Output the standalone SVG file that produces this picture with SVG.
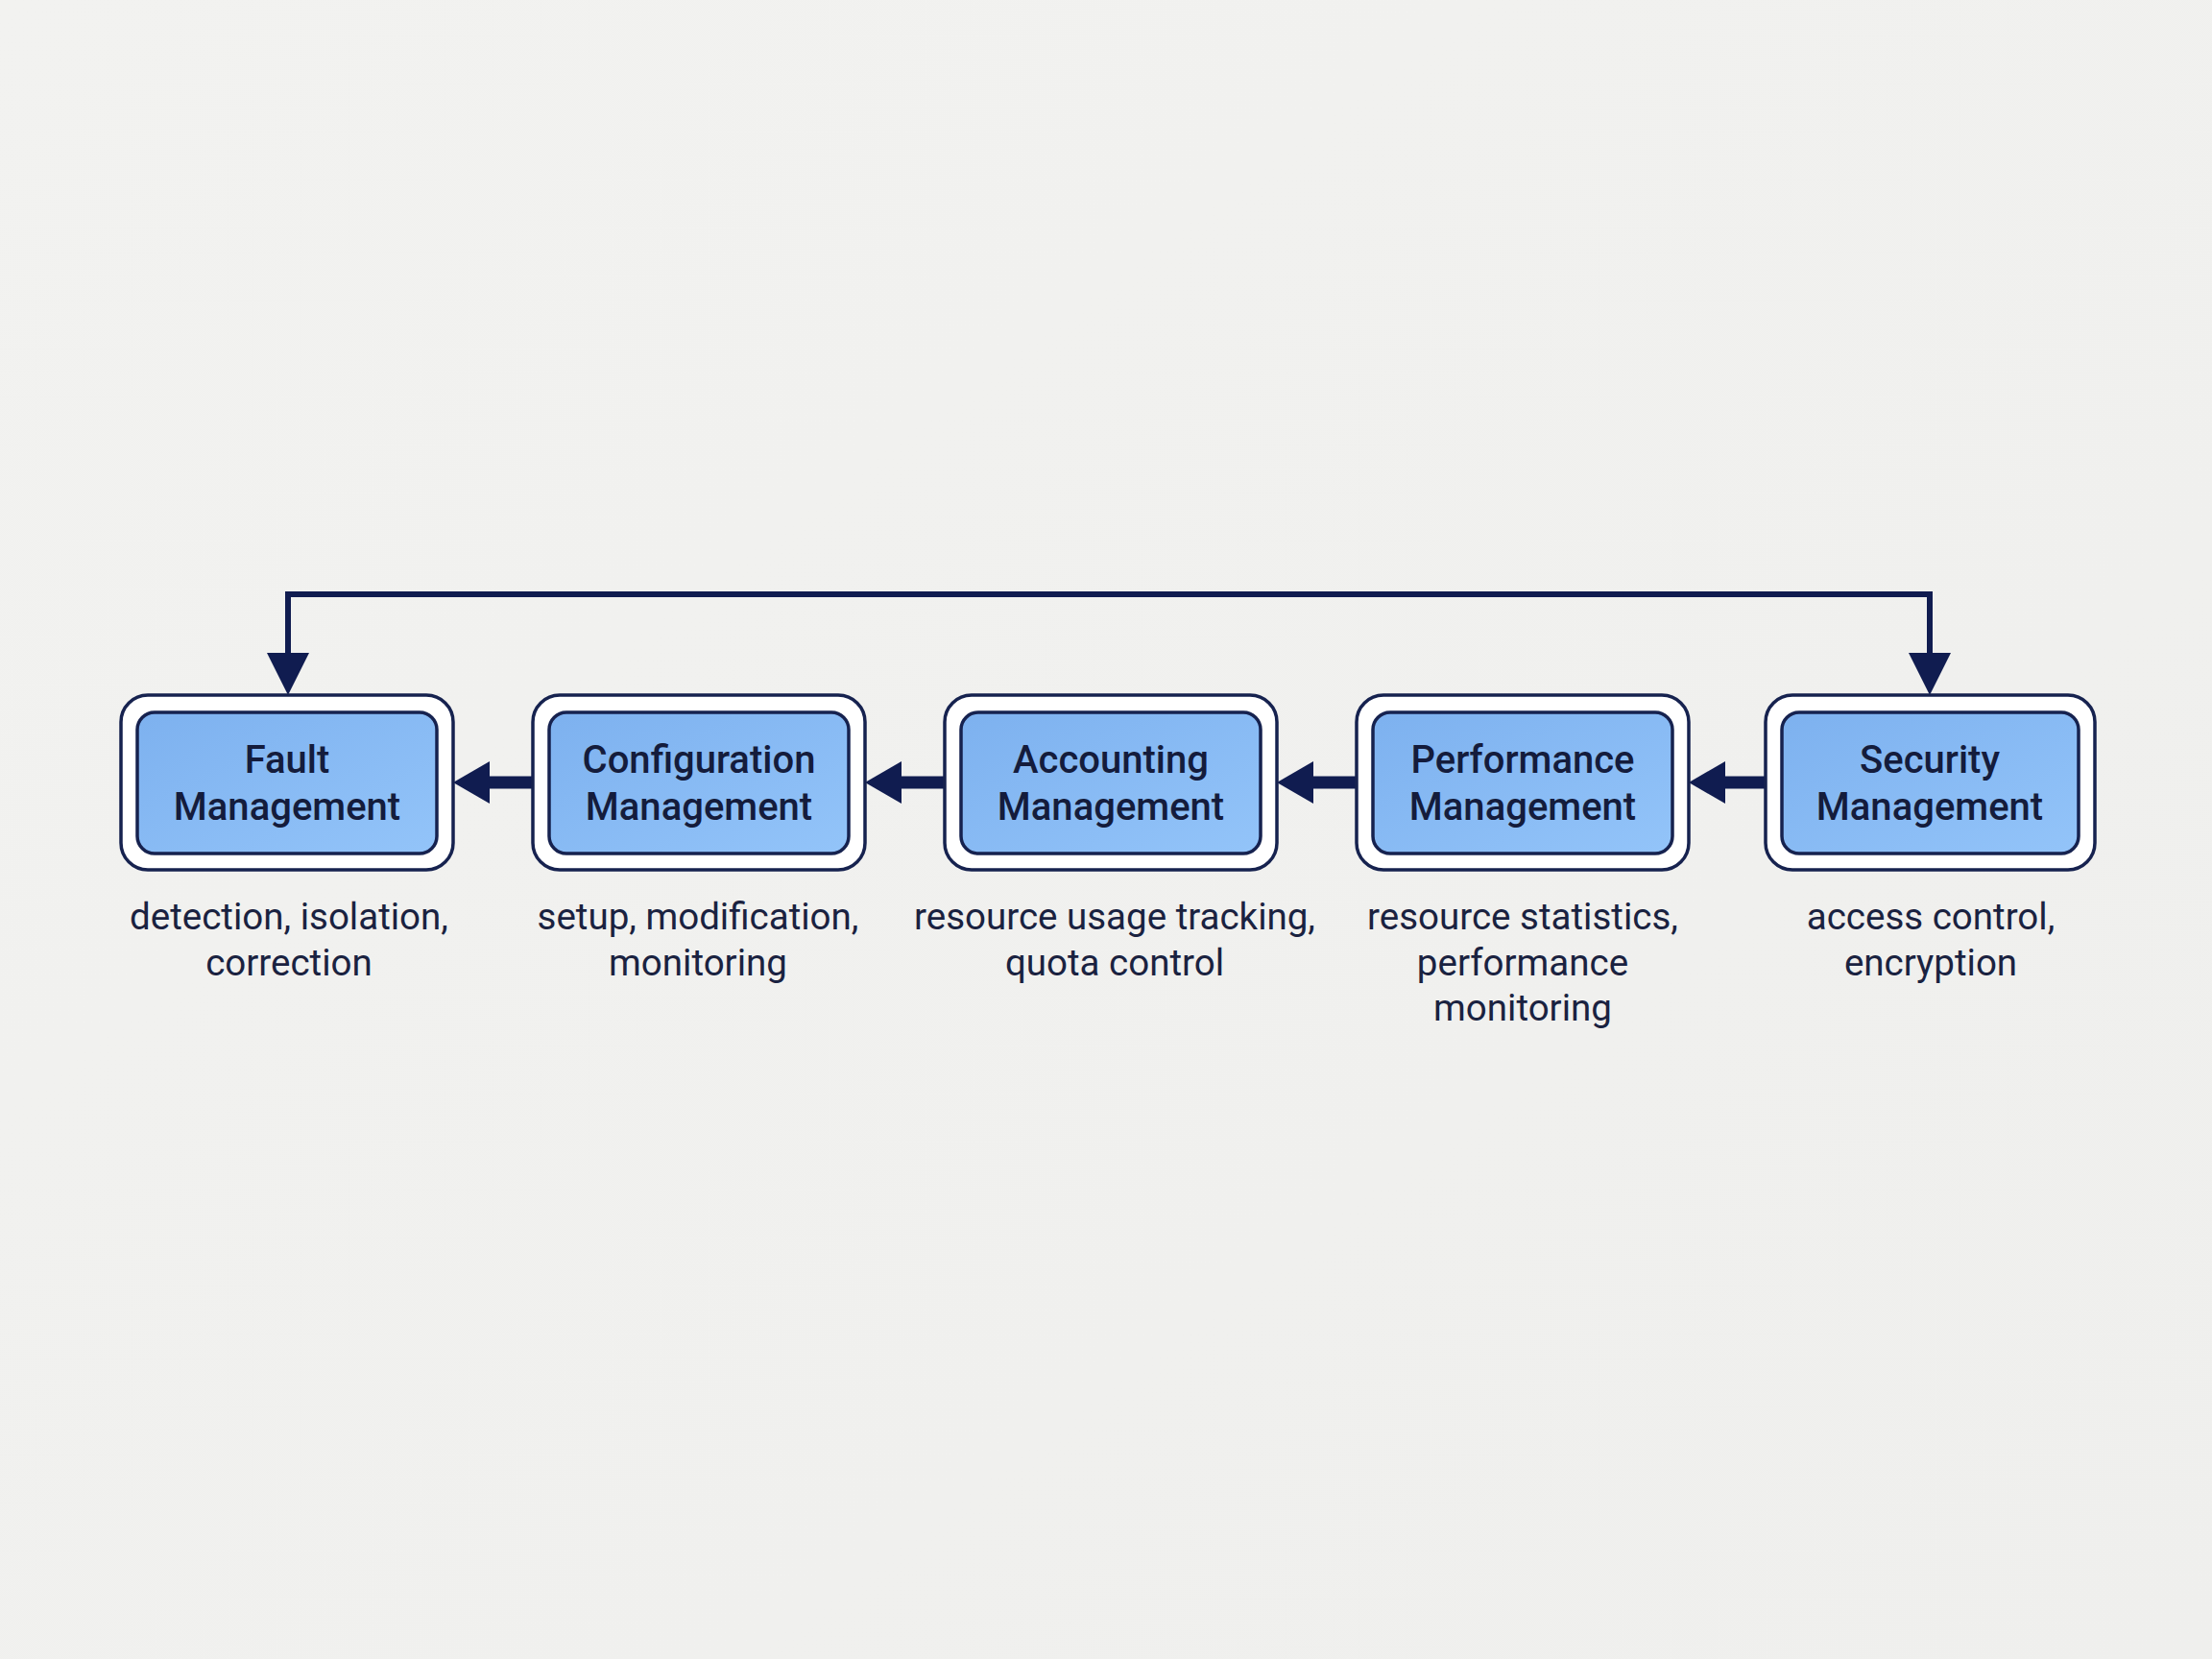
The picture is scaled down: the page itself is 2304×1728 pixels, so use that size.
<svg xmlns="http://www.w3.org/2000/svg" width="2304" height="1728" viewBox="0 0 2304 1728">
<defs>
<linearGradient id="bg" x1="0" y1="0" x2="1" y2="1">
<stop offset="0" stop-color="#f2f2f0"/>
<stop offset="1" stop-color="#efefed"/>
</linearGradient>
<linearGradient id="blue" x1="0" y1="0" x2="1" y2="1">
<stop offset="0" stop-color="#7db1ef"/>
<stop offset="1" stop-color="#93c4f9"/>
</linearGradient>
<style>
.outer{fill:#ffffff;stroke:#16224f;stroke-width:3.5}
.inner{fill:url(#blue);stroke:#16224f;stroke-width:3.5}
.lbl{font-family:Roboto,"Liberation Sans",sans-serif;font-weight:500;font-size:40px;fill:#141c3c;text-anchor:middle}
.desc{font-family:Roboto,"Liberation Sans",sans-serif;font-weight:400;font-size:38.5px;fill:#1a2240;text-anchor:middle}
.conn{stroke:#101c50;fill:none}
.head{fill:#101c50}
</style>
</defs>
<rect width="2304" height="1728" fill="url(#bg)"/>

<g id="connectors">
<polyline class="conn" stroke-width="6" points="300,682 300,619 2010,619 2010,682"/>
<polygon class="head" points="278,680 322,680 300,724"/>
<polygon class="head" points="1988,680 2032,680 2010,724"/>
<line class="conn" stroke-width="13" x1="554" y1="815" x2="505" y2="815"/>
<polygon class="head" points="472,815 510,793 510,837"/>
<line class="conn" stroke-width="13" x1="983" y1="815" x2="934" y2="815"/>
<polygon class="head" points="901,815 939,793 939,837"/>
<line class="conn" stroke-width="13" x1="1412" y1="815" x2="1363" y2="815"/>
<polygon class="head" points="1330,815 1368,793 1368,837"/>
<line class="conn" stroke-width="13" x1="1838" y1="815" x2="1792" y2="815"/>
<polygon class="head" points="1759,815 1797,793 1797,837"/>
</g>

<g id="fault">
<rect class="outer" x="126" y="724" width="346" height="182" rx="28"/>
<rect class="inner" x="143" y="742" width="312" height="147" rx="18"/>
<text class="lbl" x="299" y="805">Fault</text>
<text class="lbl" x="299" y="854">Management</text>
<text class="desc" x="301" y="968">detection, isolation,</text>
<text class="desc" x="301" y="1016">correction</text>
</g>

<g id="configuration">
<rect class="outer" x="555" y="724" width="346" height="182" rx="28"/>
<rect class="inner" x="572" y="742" width="312" height="147" rx="18"/>
<text class="lbl" x="728" y="805">Configuration</text>
<text class="lbl" x="728" y="854">Management</text>
<text class="desc" x="727" y="968">setup, modification,</text>
<text class="desc" x="727" y="1016">monitoring</text>
</g>

<g id="accounting">
<rect class="outer" x="984" y="724" width="346" height="182" rx="28"/>
<rect class="inner" x="1001" y="742" width="312" height="147" rx="18"/>
<text class="lbl" x="1157" y="805">Accounting</text>
<text class="lbl" x="1157" y="854">Management</text>
<text class="desc" x="1161" y="968">resource usage tracking,</text>
<text class="desc" x="1161" y="1016">quota control</text>
</g>

<g id="performance">
<rect class="outer" x="1413" y="724" width="346" height="182" rx="28"/>
<rect class="inner" x="1430" y="742" width="312" height="147" rx="18"/>
<text class="lbl" x="1586" y="805">Performance</text>
<text class="lbl" x="1586" y="854">Management</text>
<text class="desc" x="1586" y="968">resource statistics,</text>
<text class="desc" x="1586" y="1016">performance</text>
<text class="desc" x="1586" y="1063">monitoring</text>
</g>

<g id="security">
<rect class="outer" x="1839" y="724" width="343" height="182" rx="28"/>
<rect class="inner" x="1856" y="742" width="309" height="147" rx="18"/>
<text class="lbl" x="2010" y="805">Security</text>
<text class="lbl" x="2010" y="854">Management</text>
<text class="desc" x="2011" y="968">access control,</text>
<text class="desc" x="2011" y="1016">encryption</text>
</g>
</svg>
